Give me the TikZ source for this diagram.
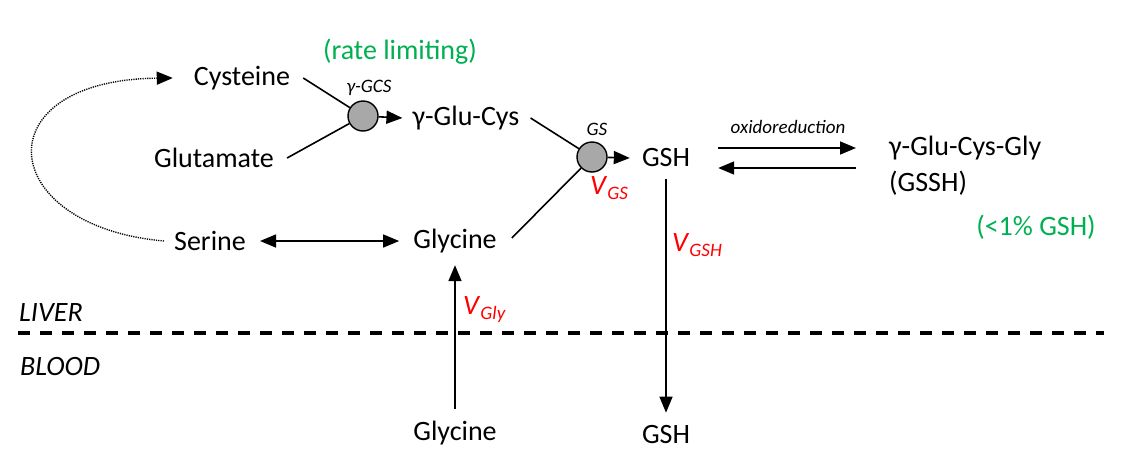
\documentclass[tikz,border=0pt]{standalone}
\usepackage{fontspec}
\setmainfont{Carlito}
\usetikzlibrary{arrows.meta,calc}

\newcommand{\vrate}[1]{\textit{V}\raisebox{-5pt}{\fontsize{19}{21}\selectfont\textit{#1}}}

\begin{document}
\begin{tikzpicture}[x=1pt, y=-1pt,
	txt/.style={inner sep=0pt, font=\fontsize{28}{34}\selectfont},
	small/.style={inner sep=0pt, font=\fontsize{19}{22}\selectfont\itshape},
	note/.style={txt, text={rgb,255:red,0;green,176;blue,80}},
	ratelab/.style={txt, anchor=west, text=red},
	zone/.style={txt, anchor=west, font=\fontsize{28}{34}\selectfont\itshape},
	enzyme/.style={circle, draw, line width=1.4pt, fill=gray!68, minimum size=30pt, inner sep=0pt},
	link/.style={line width=1.6pt},
	arr/.style={link, -{Triangle[length=16pt,width=13pt]}},
	dblarr/.style={link, {Triangle[length=16pt,width=13pt]}-{Triangle[length=16pt,width=13pt]}}]
	\useasboundingbox (0,0) rectangle (1124,469); % Rand um Grafik

	\node[txt] (cys) at (242,78) {Cysteine};
	\node[txt] (glu) at (214,158) {Glutamate};
	\node[note] (rl) at (400,52) {(rate limiting)};
	\node[enzyme] (gcs) at (363,116) {};
	\node[small] (gcslab) at (369,88) {γ-GCS};
	\node[txt] (gglucys) at (466,118) {γ-Glu-Cys};

	\node[enzyme] (gs) at (592,157) {};
	\node[small] (gslab) at (597,129) {GS};
	\node[ratelab] (vgs) at (590,188) {\vrate{GS}};
	\node[txt] (gsh) at (666,158) {GSH};

	\node[txt] (ser) at (210,241) {Serine};
	\node[txt] (gly) at (455,241) {Glycine};

	\node[small] (oxr) at (788,127) {oxidoreduction};
	\node[txt, anchor=west] (gssg) at (889,148) {γ-Glu-Cys-Gly};
	\node[txt, anchor=west] (gssgb) at (889,183) {(GSSH)};
	\node[note] (pct) at (1036,227) {(<1\% GSH)};

	% Leber / Blut
	\node[zone] (liver) at (19,313) {LIVER};
	\node[zone] (blood) at (20,367) {BLOOD};
	\draw[line width=3.5pt, dash pattern=on 12pt off 10pt] (18,333) -- (1104,333);

	\node[txt] (glyb) at (455,433) {Glycine};
	\node[txt] (gshb) at (666,435) {GSH};
	\node[ratelab] (vgly) at (463,310) {\vrate{Gly}};
	\node[ratelab] (vgsh) at (672,245) {\vrate{GSH}};

	% Reaktionen
	\draw[link] ([xshift=13pt]cys.east) -- (gcs);
	\draw[link] ([xshift=13pt]glu.east) -- (gcs);
	\draw[arr] (gcs) -- ([xshift=-10pt]gglucys.west);
	\draw[link] ([xshift=11pt]gglucys.east) -- (gs);
	\draw[link] ([shift={(15pt,3pt)}]gly.east) -- (gs);
	\draw[arr] (gs) -- ([xshift=-12pt]gsh.west);

	\draw[dblarr, shorten <=14pt, shorten >=14pt] (ser) -- (gly);
	\draw[link, line width=1.4pt, dash pattern=on 1.2pt off 1.1pt, -{Triangle[length=16pt,width=13pt]}]
		([xshift=-10pt]ser.west) .. controls (-5,226) and (-18,80) .. ([xshift=-21pt]cys.west);

	\draw[arr] ($(gsh.east)+(28,-10)$) -- ($(gsh.east -| gssg.west)+(-33,-10)$);
	\draw[arr] ($(gsh.east -| gssg.west)+(-33,10)$) -- ($(gsh.east)+(28,10)$);

	\draw[arr, shorten <=12pt, shorten >=13pt] (gsh) -- (gshb);
	\draw[arr, shorten <=12pt, shorten >=12pt] (glyb) -- (gly);

	%\draw[help lines, step=50] (0,0) grid (1124,469);
\end{tikzpicture}
\end{document}
